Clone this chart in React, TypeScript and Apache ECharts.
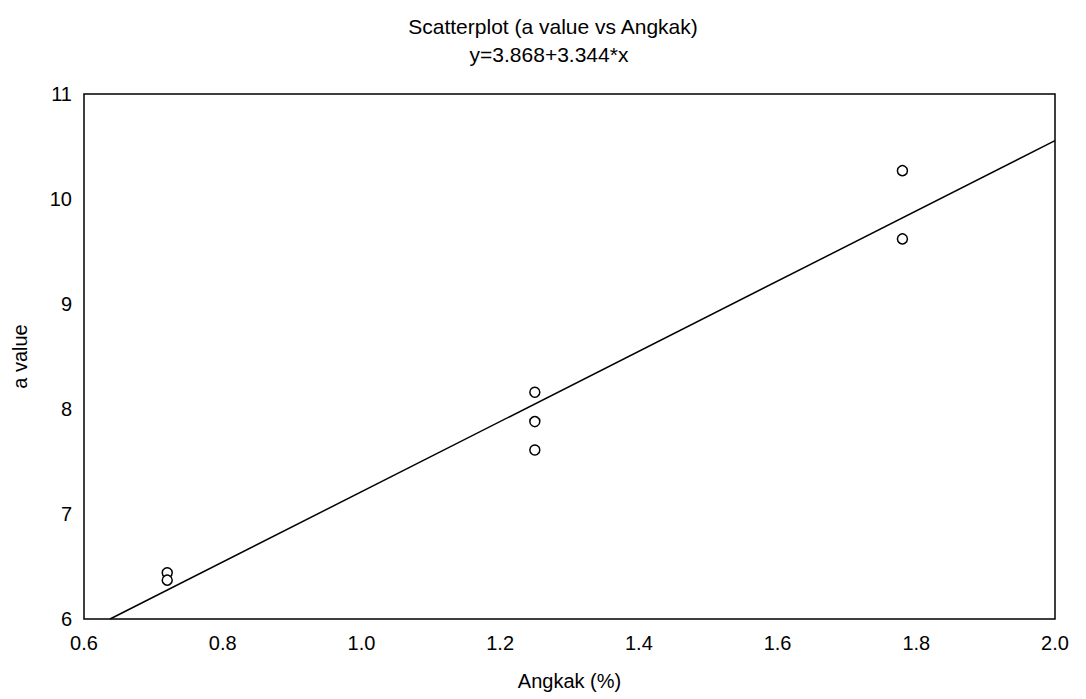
import React, { useEffect, useRef } from "react";
import * as echarts from "echarts";

const angkak = [0.72, 0.72, 1.25, 1.25, 1.25, 1.78, 1.78];
const aValue = [6.44, 6.37, 8.16, 7.88, 7.61, 10.27, 9.62];
const fitX = [0.6376, 2.0];
const fitY = [6.0, 10.556];
const xTicks = [0.6, 0.8, 1.0, 1.2, 1.4, 1.6, 1.8, 2.0];
const yTicks = [6, 7, 8, 9, 10, 11];

const FONT = "'Liberation Sans', Arial, sans-serif";

export default function App() {
  const ref = useRef<HTMLDivElement>(null);
  useEffect(() => {
    if (!ref.current) return;
    const chart = echarts.init(ref.current, undefined, { renderer: "svg" });
    chart.setOption({
      animation: false,
      backgroundColor: "#ffffff",
      title: [
        {
          text: "Scatterplot (a value vs Angkak)",
          left: 548,
          textAlign: "center",
          top: 11,
          textStyle: { fontFamily: FONT, fontSize: 21, fontWeight: "normal", color: "#000" },
        },
        {
          text: "y=3.868+3.344*x",
          left: 544,
          textAlign: "center",
          top: 39,
          textStyle: { fontFamily: FONT, fontSize: 21, fontWeight: "normal", color: "#000" },
        },
      ],
      grid: {
        left: 84,
        right: 31,
        top: 94,
        bottom: 80,
        show: true,
        borderColor: "#000",
        borderWidth: 1.5,
        backgroundColor: "transparent",
      },
      xAxis: {
        type: "value",
        min: xTicks[0],
        max: xTicks[xTicks.length - 1],
        interval: 0.2,
        name: "Angkak (%)",
        nameLocation: "middle",
        nameGap: 52,
        nameTextStyle: { fontFamily: FONT, fontSize: 20, color: "#000" },
        axisLine: { show: false },
        axisTick: { show: false },
        splitLine: { show: false },
        axisLabel: {
          fontFamily: FONT,
          fontSize: 20,
          color: "#000",
          margin: 14,
          formatter: (v: number) => v.toFixed(1),
        },
      },
      yAxis: {
        type: "value",
        min: yTicks[0],
        max: yTicks[yTicks.length - 1],
        interval: 1,
        name: "a value",
        nameLocation: "middle",
        nameGap: 54,
        nameTextStyle: { fontFamily: FONT, fontSize: 20, color: "#000" },
        axisLine: { show: false },
        axisTick: { show: false },
        splitLine: { show: false },
        axisLabel: { fontFamily: FONT, fontSize: 20, color: "#000", margin: 12 },
      },
      series: [
        {
          type: "line",
          data: fitX.map((x, i) => [x, fitY[i]]),
          symbol: "none",
          lineStyle: { color: "#000", width: 1.5 },
          silent: true,
        },
        {
          type: "scatter",
          data: angkak.map((x, i) => [x, aValue[i]]),
          symbol: "circle",
          symbolSize: 10,
          itemStyle: { color: "#fff", borderColor: "#000", borderWidth: 1.5, opacity: 1 },
        },
      ],
    });
    return () => chart.dispose();
  }, []);
  return (
    <div
      ref={ref}
      style={{ position: "fixed", left: 0, top: 0, width: 1086, height: 699, background: "#fff" }}
    />
  );
}
